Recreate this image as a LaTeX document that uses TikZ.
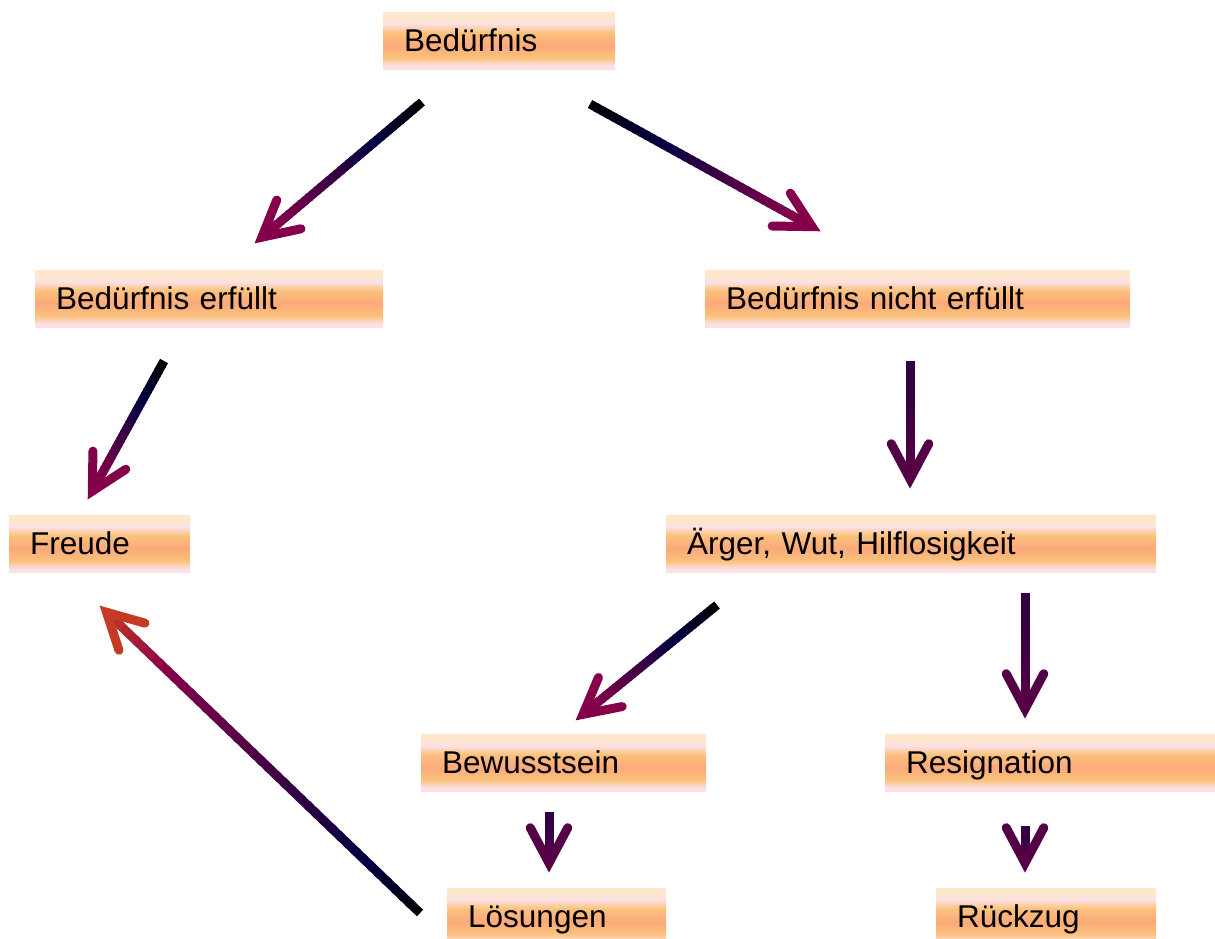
\documentclass[tikz,border=0pt]{standalone}
\usepackage{fontspec}
\setmainfont{Liberation Sans}
\usetikzlibrary{calc}
\definecolor{bpeach}{HTML}{FDE8CC}
\definecolor{bpink}{HTML}{FDE1E6}
\definecolor{borange}{HTML}{FBC27A}
\definecolor{bsalmon}{HTML}{FBA97C}
\definecolor{bpinkb}{HTML}{FDE0E6}
\definecolor{anavy}{HTML}{000040}
\definecolor{acrim}{HTML}{85004A}
\definecolor{apurpA}{HTML}{330042}
\definecolor{apurpB}{HTML}{550046}
\definecolor{aorange}{HTML}{C53A24}
\pgfdeclareverticalshading{boxshade}{100bp}{color(0bp)=(bpinkb); color(25bp)=(bpinkb); color(28bp)=(bpinkb); color(35bp)=(borange); color(46bp)=(bsalmon); color(57bp)=(borange); color(65bp)=(bpink); color(70bp)=(bpeach); color(75bp)=(bpeach); color(100bp)=(bpeach)}
\tikzset{
  box/.style={shade, shading=boxshade, anchor=north west, inner xsep=21pt, inner ysep=0pt,
    text height=28pt, text depth=6pt, align=left, font=\fontsize{31.5}{36}\selectfont, text=black}
}
\newcommand\bx[6]{\node[box, minimum width=#4pt, minimum height=#5pt, text width=\dimexpr #4pt-42pt\relax] (#1) at (#2,#3) {#6};}
% #1 start, #2 tip, #3 c0, #4 s1, #5 c1, #6 s2, #7 c2, #8 c3, #9 head colour
\newcommand\gradarrow[9]{%
  \coordinate (gv) at ($(#2)!9pt!(#1)$);
  \foreach \i in {1,...,40}{%
    \pgfmathsetmacro\ta{(\i-1)/40}%
    \pgfmathsetmacro\tb{min(\i/40+0.012,1)}%
    \pgfmathsetmacro\tm{(\i-0.5)/40}%
    \ifdim\tm pt<#4pt
      \pgfmathtruncatemacro\pp{100*\tm/#4}%
      \colorlet{sc}{#5!\pp!#3}%
    \else\ifdim\tm pt<#6pt
      \pgfmathtruncatemacro\pp{100*(\tm-#4)/(#6-#4)}%
      \colorlet{sc}{#7!\pp!#5}%
    \else
      \pgfmathtruncatemacro\pp{100*(\tm-#6)/(1-#6)}%
      \colorlet{sc}{#8!\pp!#7}%
    \fi\fi
    \draw[line width=9pt, color=sc] ($(#1)!\ta!(gv)$) -- ($(#1)!\tb!(gv)$);
  }
  \draw[line width=9pt, color=#9, line cap=round, line join=miter]
    ($(gv)!40pt!28:(#1)$) -- (gv) -- ($(gv)!40pt!-28:(#1)$);
}
\begin{document}
\begin{tikzpicture}[x=1pt,y=-1pt]
\useasboundingbox (0,0) rectangle (1215,938);
\bx{b1}{383}{12}{232}{57}{Bedürfnis}
\bx{b2}{35}{270}{348}{57}{Bedürfnis erfüllt}
\bx{b3}{705}{270}{425}{57}{Bedürfnis nicht erfüllt}
\bx{b4}{9}{515}{181}{57}{Freude}
\bx{b5}{666}{515}{490}{57}{Ärger, Wut, Hilflosigkeit}
\bx{b6}{421}{734}{285}{57}{Bewusstsein}
\bx{b7}{885}{734}{330}{57}{Resignation}
\bx{b8}{447}{888}{219}{57}{Lösungen}
\bx{b9}{936}{888}{220}{57}{Rückzug}
\coordinate (a1s) at (422,102); \coordinate (a1t) at (255,243);
\coordinate (a2s) at (590,104); \coordinate (a2t) at (820,231);
\coordinate (a3s) at (164,361); \coordinate (a3t) at (88,499);
\coordinate (a4s) at (910,361); \coordinate (a4t) at (910,488);
\coordinate (a5s) at (717,605); \coordinate (a5t) at (576,720);
\coordinate (a6s) at (1025,593); \coordinate (a6t) at (1025,718);
\coordinate (a7s) at (549,812); \coordinate (a7t) at (549,872);
\coordinate (a8s) at (1025,826); \coordinate (a8t) at (1025,872);
\coordinate (a9s) at (420,913); \coordinate (a9t) at (100,606);
\gradarrow{a1s}{a1t}{black}{0.3}{anavy}{0.9}{acrim}{acrim}{acrim}
\gradarrow{a2s}{a2t}{black}{0.3}{anavy}{0.9}{acrim}{acrim}{acrim}
\gradarrow{a3s}{a3t}{black}{0.3}{anavy}{0.9}{acrim}{acrim}{acrim}
\gradarrow{a5s}{a5t}{black}{0.3}{anavy}{0.9}{acrim}{acrim}{acrim}
\gradarrow{a4s}{a4t}{apurpA}{0.3}{apurpA}{0.9}{apurpB}{apurpB}{apurpB}
\gradarrow{a6s}{a6t}{apurpA}{0.3}{apurpA}{0.9}{apurpB}{apurpB}{apurpB}
\gradarrow{a7s}{a7t}{apurpA}{0.3}{apurpA}{0.9}{apurpB}{apurpB}{apurpB}
\gradarrow{a8s}{a8t}{apurpA}{0.3}{apurpA}{0.9}{apurpB}{apurpB}{apurpB}
\gradarrow{a9s}{a9t}{black}{0.15}{anavy}{0.8}{acrim}{aorange}{aorange}
\end{tikzpicture}
\end{document}
